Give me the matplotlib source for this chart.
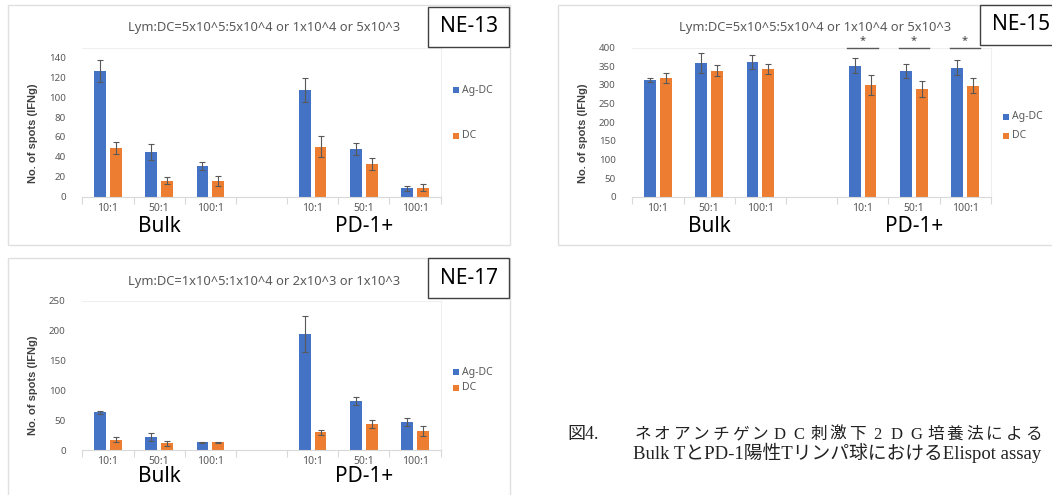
import numpy as np
import matplotlib
matplotlib.use("Agg")
import matplotlib.pyplot as plt
from matplotlib.patches import Rectangle

# ---------------- data ----------------
ratios = ["10:1", "50:1", "100:1"]
groups = ["Bulk", "PD-1+"]
series = ["Ag-DC", "DC"]

# NE-13  (Bulk 10:1, 50:1, 100:1, PD-1+ 10:1, 50:1, 100:1)
ne13_agdc = [126, 45, 31, 107, 48, 8.5]
ne13_agdc_err = [11, 8, 4, 12, 6, 2.5]
ne13_dc = [49, 16, 16, 50, 33, 9]
ne13_dc_err = [6, 3.5, 5, 10.5, 6, 3.5]
ne13_sig = [False] * 6

# NE-15
ne15_agdc = [313, 360, 361, 352, 337, 346]
ne15_agdc_err = [6, 27, 19, 21, 18, 20]
ne15_dc = [319, 338, 343, 300, 289, 298]
ne15_dc_err = [13, 15, 14, 28, 21, 20]
ne15_sig = [False, False, False, True, True, True]

# NE-17
ne17_agdc = [63, 22, 13, 195, 82, 47.5]
ne17_agdc_err = [3, 7, 1, 30, 7, 7]
ne17_dc = [17, 11, 13, 30, 44, 32]
ne17_dc_err = [4, 4.5, 1, 4, 7, 8]
ne17_sig = [False] * 6

titles = ["Lym:DC=5x10^5:5x10^4 or 1x10^4 or 5x10^3",
          "Lym:DC=5x10^5:5x10^4 or 1x10^4 or 5x10^3",
          "Lym:DC=1x10^5:1x10^4 or 2x10^3 or 1x10^3"]
names = ["NE-13", "NE-15", "NE-17"]
yticks_list = [np.arange(0, 141, 20), np.arange(0, 401, 50), np.arange(0, 251, 50)]
ylims = [149, 400, 250]
ylabel = "No. of spots (IFNg)"

caption1_head = "図4."
caption1_body = "ネオアンチゲンDC刺激下2DG培養法による"
caption2 = "Bulk TとPD-1陽性Tリンパ球におけるElispot assay"

# ---------------- style ----------------
BLUE = "#4472C4"
ORANGE = "#ED7D31"
GRAY = "#595959"
W, H = 1052, 495

plt.rcParams["font.family"] = ["Noto Sans", "DejaVu Sans"]

fig = plt.figure(figsize=(W / 100, H / 100), dpi=100)


def fx(px):
    return px / W


def fy(py):
    return 1 - py / H


def add_rect(x0, y0, x1, y1, ec, lw, fill=False, fc="white", z=1):
    r = Rectangle((fx(x0), fy(y1)), (x1 - x0) / W, (y1 - y0) / H,
                  transform=fig.transFigure, fill=fill, facecolor=fc,
                  edgecolor=ec, lw=lw, zorder=z)
    fig.patches.append(r)


# panel layouts (pixel geometry)
layouts = [
    dict(frame=(8, 5, 510, 245), ax=(82.3, 48.3, 440.7, 196.7), title=(264, 27),
         box=(428, 7, 509, 47), boxtext=(469, 27), ylab=(33, 133),
         leg=(453, 90, 136), grp_y=226, star_y=41),
    dict(frame=(558, 5, 1062, 245), ax=(632.3, 47.7, 990.7, 196.7), title=(815, 27),
         box=(980, 5, 1062, 45), boxtext=(1021, 25), ylab=(583, 133),
         leg=(1003, 117, 136), grp_y=226, star_y=41),
    dict(frame=(8, 258, 510, 500), ax=(82.3, 301, 440.7, 450), title=(264, 282),
         box=(428, 258, 509, 298), boxtext=(469, 278), ylab=(33, 385),
         leg=(453, 372, 388), grp_y=477, star_y=295),
]

data = [
    (ne13_agdc, ne13_agdc_err, ne13_dc, ne13_dc_err, ne13_sig),
    (ne15_agdc, ne15_agdc_err, ne15_dc, ne15_dc_err, ne15_sig),
    (ne17_agdc, ne17_agdc_err, ne17_dc, ne17_dc_err, ne17_sig),
]

xpos = np.r_[0:3, 4:7].astype(float)
bw = 0.229
off = 0.153
ekw = dict(ecolor=GRAY, elinewidth=0.8, capsize=2.2, capthick=0.8)

for k, (lay, (ag, agerr, dc, dcerr, sig)) in enumerate(zip(layouts, data)):
    add_rect(*lay["frame"], ec="#e0e0e0", lw=1.0)
    l, t, r, b = lay["ax"]
    ax = fig.add_axes([fx(l), fy(b), (r - l) / W, (b - t) / H])
    ax.bar(xpos - off, ag, bw, yerr=agerr, color=BLUE, error_kw=ekw, zorder=2)
    ax.bar(xpos + off, dc, bw, yerr=dcerr, color=ORANGE, error_kw=ekw, zorder=2)
    ax.set_xlim(-0.5, 6.5)
    ax.set_ylim(0, ylims[k])
    ax.set_yticks(yticks_list[k])
    ax.set_xticks(xpos)
    ax.set_xticklabels(ratios * 2)
    ax.set_xticks(np.arange(-0.5, 7, 1), minor=True)
    ax.tick_params(axis="x", which="major", length=0, pad=4.5, labelsize=7.5, labelcolor=GRAY)
    ax.tick_params(axis="x", which="minor", length=5, color="#d9d9d9", width=0.8)
    ax.tick_params(axis="y", length=0, pad=12, labelsize=7, labelcolor=GRAY)
    for s in ["top", "right"]:
        ax.spines[s].set_color("#efefef")
        ax.spines[s].set_linewidth(0.8)
    ax.spines["left"].set_visible(False)
    ax.spines["bottom"].set_color("#d9d9d9")
    ax.spines["bottom"].set_linewidth(0.8)

    # significance markers
    ytop = ax.get_ylim()[1]
    for x, s in zip(xpos, sig):
        if s:
            ax.plot([x - 0.3, x + 0.3], [ytop, ytop], color=GRAY, lw=1.0, clip_on=False, zorder=3)
            ax.annotate("*", xy=(x, H - lay["star_y"]), xycoords=("data", "figure pixels"),
                        ha="center", va="center", fontsize=8, color="#404040")

    # group labels
    for gx, g in zip([1, 5], groups):
        ax.annotate(g, xy=(gx, H - lay["grp_y"]), xycoords=("data", "figure pixels"),
                    ha="center", va="center", fontsize=15, color="black")

    # title
    fig.text(fx(lay["title"][0]), fy(lay["title"][1]), titles[k], ha="center", va="center",
             fontsize=9.3, color=GRAY)
    # NE box
    add_rect(*lay["box"], ec="#404040", lw=1.0, fill=True, fc="white", z=3)
    bx, by = lay["boxtext"]
    fig.text(fx(bx), fy(by), names[k], ha="center", va="center", fontsize=15, color="black",
             zorder=4)
    # y label
    fig.text(fx(lay["ylab"][0]), fy(lay["ylab"][1]), ylabel, rotation=90, ha="center",
             va="center", fontsize=8, color="#404040", fontweight="bold",
             family=["Liberation Sans Narrow", "Liberation Sans", "DejaVu Sans"])
    # legend
    lx, ly1, ly2 = lay["leg"]
    for yy, col, lab in [(ly1, BLUE, series[0]), (ly2, ORANGE, series[1])]:
        add_rect(lx, yy - 3, lx + 6, yy + 3, ec="none", lw=0, fill=True, fc=col, z=3)
        fig.text(fx(lx + 9), fy(yy), lab, ha="left", va="center", fontsize=7.5, color=GRAY)

# caption
cap_fam = ["Liberation Serif", "Noto Sans CJK JP"]
fig.text(fx(567), fy(435), caption1_head, ha="left", va="center", fontsize=13, family=cap_fam,
         color="#222222")
pitch = (1043 - 633) / len(caption1_body)
for i, ch in enumerate(caption1_body):
    fig.text(fx(633 + pitch * (i + 0.5)), fy(435), ch, ha="center", va="center", fontsize=12,
             family=cap_fam, color="#222222")
fig.text(fx(633), fy(453), caption2, ha="left", va="center", fontsize=13.5, family=cap_fam,
         color="#222222")

fig.savefig("out.png", dpi=100)
